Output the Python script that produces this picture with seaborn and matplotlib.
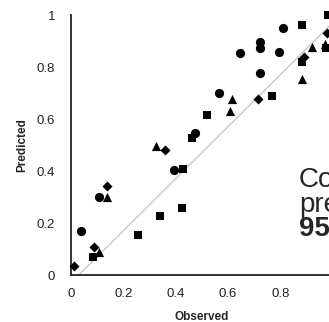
import matplotlib
matplotlib.use('Agg')
import matplotlib.pyplot as plt
import seaborn as sns
import pandas as pd

# Observed vs predicted values, one list pair per marker group
circle_obs = [0.038, 0.107, 0.394, 0.474, 0.567, 0.646, 0.723, 0.723, 0.723, 0.797, 0.81]
circle_pred = [0.17, 0.30, 0.404, 0.547, 0.70, 0.855, 0.897, 0.874, 0.778, 0.857, 0.949]

square_obs = [0.085, 0.256, 0.34, 0.423, 0.43, 0.461, 0.519, 0.77, 0.882, 0.882, 0.975, 0.983]
square_pred = [0.068, 0.154, 0.227, 0.256, 0.409, 0.528, 0.615, 0.69, 0.962, 0.82, 0.875, 1.0]

triangle_obs = [0.108, 0.136, 0.325, 0.608, 0.614, 0.882, 0.923, 0.97]
triangle_pred = [0.09, 0.30, 0.496, 0.631, 0.676, 0.754, 0.878, 0.89]

diamond_obs = [0.011, 0.089, 0.136, 0.359, 0.714, 0.89, 0.98]
diamond_pred = [0.035, 0.106, 0.342, 0.481, 0.677, 0.84, 0.93]

# reference line
line_x = [0.03, 1.0]
line_y = [0.0, 0.97]

x_ticks = [0, 0.2, 0.4, 0.6, 0.8]
x_tick_labels = ["0", "0.2", "0.4", "0.6", "0.8"]
y_ticks = [0, 0.2, 0.4, 0.6, 0.8, 1.0]
y_tick_labels = ["0", "0.2", "0.4", "0.6", "0.8", "1"]

sns.set_style("white")
plt.rcParams['font.family'] = ['Liberation Sans', 'DejaVu Sans']

fig = plt.figure(figsize=(3.29, 3.22), dpi=100)
ax = fig.add_axes([71 / 329, 47 / 322, 261.5 / 329, 260 / 322])

sns.lineplot(x=line_x, y=line_y, ax=ax, color="#c8c8c8", linewidth=1.0)

groups = [
    (circle_obs, circle_pred, "o", 44),
    (square_obs, square_pred, "s", 38),
    (triangle_obs, triangle_pred, "^", 44),
    (diamond_obs, diamond_pred, "D", 26),
]
for obs, pred, marker, size in groups:
    df = pd.DataFrame({"Observed": obs, "Predicted": pred})
    sns.scatterplot(data=df, x="Observed", y="Predicted", ax=ax, marker=marker,
                    s=size, color="black", linewidth=0, clip_on=False, zorder=3)

ax.set_xlim(0, 1)
ax.set_ylim(0, 1)
ax.set_xticks(x_ticks)
ax.set_xticklabels(x_tick_labels)
ax.set_yticks(y_ticks)
ax.set_yticklabels(y_tick_labels)
ax.tick_params(axis="both", direction="out", length=3.5, width=1.2, color="#222222",
               labelsize=9.5, labelcolor="#222222")
ax.tick_params(axis="y", pad=8)
ax.tick_params(axis="x", pad=6)
for side in ["top", "right"]:
    ax.spines[side].set_visible(False)
for side in ["left", "bottom"]:
    ax.spines[side].set_color("#222222")
    ax.spines[side].set_linewidth(1.3)

ax.set_xlabel("Observed", fontsize=8.5, fontweight="bold", labelpad=8)
ax.set_ylabel("Predicted", fontsize=8.5, fontweight="bold", labelpad=6)

# side note, cut by the right edge as in the source figure
fig.text(299 / 329, 1 - 180 / 322, "Correct", fontsize=20, va="center", ha="left")
fig.text(299 / 329, 1 - 205 / 322, "predictions:", fontsize=20, va="center", ha="left")
fig.text(299 / 329, 1 - 229 / 322, "95%", fontsize=20, fontweight="bold", va="center", ha="left")

fig.savefig("out.png", dpi=100)
plt.close(fig)
